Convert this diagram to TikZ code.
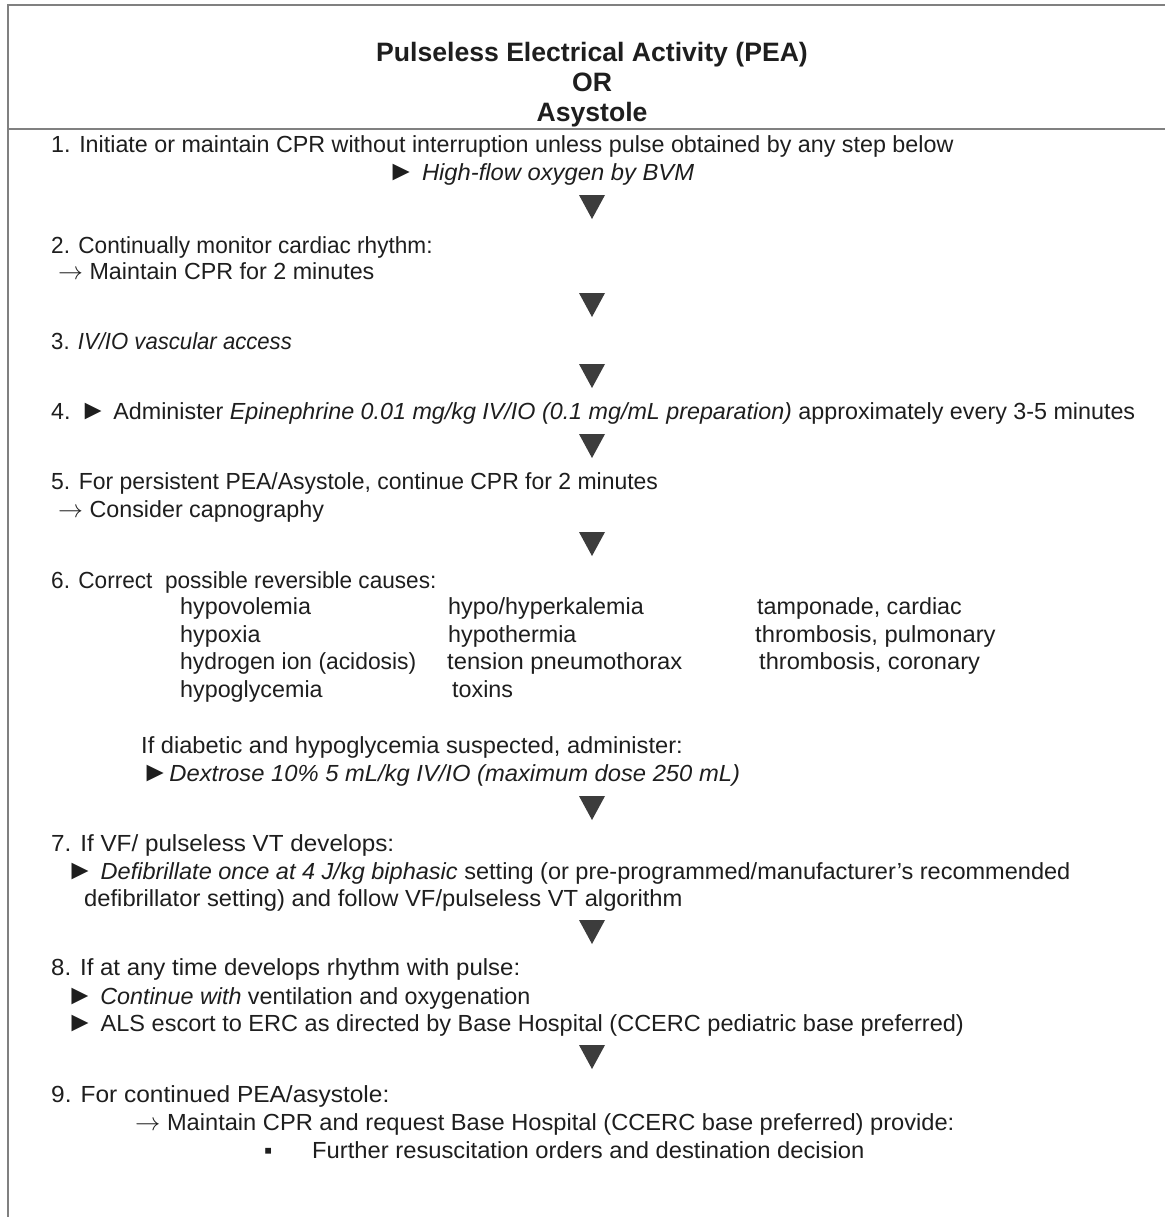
\documentclass[tikz,border=0pt]{standalone}
\usepackage{graphicx}
\usepackage{fontspec}
\setmainfont{Liberation Sans}
\definecolor{ink}{HTML}{1E1E1E}
\definecolor{trigray}{HTML}{3C3C3C}
\definecolor{rulegray}{HTML}{808080}
\newcommand\bodysize{\fontsize{23.3}{28}\selectfont}
\newcommand\hs[2]{\scalebox{#1}[1]{#2}}
\newcommand\ptr{\scalebox{1.2}{►}}
\newcommand\rarr{\smash{$\rightarrow$}}
\newcommand\downtri[2]{\fill[trigray] (#1,#2) ++(-13,-12) -- ++(26,0) -- ++(-13,24) -- cycle;}
\begin{document}
\begin{tikzpicture}[x=1pt,y=-1pt,
  txt/.style={anchor=base west, inner sep=0pt, font=\bodysize, text=ink},
  ttl/.style={anchor=base, inner sep=0pt, font=\bfseries\fontsize{26.6}{32}\selectfont, text=ink},
  frame/.style={draw=rulegray, line width=1.6pt}]
\useasboundingbox (0,0) rectangle (1165,1217);
\fill[white] (0,0) rectangle (1165,1217);
% frame
\coordinate (tl) at (8,5);
\coordinate (tr) at (1165,5);
\coordinate (bl) at (8,1217);
\coordinate (sl) at (8,129);
\coordinate (sr) at (1165,129);
\draw[frame] (bl) -- (tl) -- (tr);
\draw[frame] (sl) -- (sr);
% title
\node[ttl] (t1) at (592,62) {Pulseless Electrical Activity (PEA)};
\node[ttl] (t2) at (592,92) {OR};
\node[ttl] (t3) at (592,122) {Asystole};
% step 1
\node[txt] (s1) at (51,153) {1. Initiate or maintain CPR without interruption unless pulse obtained by any step below};
\node[txt] (s1b) at (387,181) {\hs{1.02}{\ptr\ \textit{High-flow oxygen by BVM}}};
\downtri{592}{207}
% step 2
\node[txt] (s2) at (51,253) {\hs{0.97}{2. Continually monitor cardiac rhythm:}};
\node[txt] (s2b) at (58,279) {\rarr\ Maintain CPR for 2 minutes};
\downtri{592}{305}
% step 3
\node[txt] (s3) at (51,349) {\hs{0.95}{3. \textit{IV/IO vascular access}}};
\downtri{592}{376}
% step 4
\node[txt] (s4) at (51,419) {4. \ptr\ Administer \textit{Epinephrine 0.01 mg/kg IV/IO (0.1 mg/mL preparation)} approximately every 3-5 minutes};
\downtri{592}{446}
% step 5
\node[txt] (s5) at (51,489) {\hs{0.985}{5. For persistent PEA/Asystole, continue CPR for 2 minutes}};
\node[txt] (s5b) at (58,517) {\rarr\ Consider capnography};
\downtri{592}{544}
% step 6
\node[txt] (s6) at (51,588) {\hs{0.97}{6. Correct\ \ possible reversible causes:}};
\node[txt] (c11) at (180,614) {hypovolemia};
\node[txt] (c12) at (180,642) {hypoxia};
\node[txt] (c13) at (180,669) {\hs{0.98}{hydrogen ion (acidosis)}};
\node[txt] (c14) at (180,697) {hypoglycemia};
\node[txt] (c21) at (448,614) {hypo/hyperkalemia};
\node[txt] (c22) at (448,642) {hypothermia};
\node[txt] (c23) at (447,669) {\hs{1.02}{tension pneumothorax}};
\node[txt] (c24) at (452,697) {toxins};
\node[txt] (c31) at (757,614) {tamponade, cardiac};
\node[txt] (c32) at (755,642) {\hs{1.02}{thrombosis, pulmonary}};
\node[txt] (c33) at (759,669) {\hs{1.015}{thrombosis, coronary}};
\node[txt] (d1) at (141,753) {\hs{1.015}{If diabetic and hypoglycemia suspected, administer:}};
\node[txt] (d2) at (141,781) {\hs{1.02}{\ptr\textit{Dextrose 10\% 5 mL/kg IV/IO (maximum dose 250 mL)}}};
\downtri{592}{808}
% step 7
\node[txt] (s7) at (51,851) {\hs{1.04}{7. If VF/ pulseless VT develops:}};
\node[txt] (s7b) at (66,879) {\hs{1.01}{\ptr\ \textit{Defibrillate once at 4 J/kg biphasic} setting (or pre-programmed/manufacturer’s recommended}};
\node[txt] (s7c) at (84,906) {\hs{1.02}{defibrillator setting) and follow VF/pulseless VT algorithm}};
\downtri{592}{932}
% step 8
\node[txt] (s8) at (51,975) {\hs{1.03}{8. If at any time develops rhythm with pulse:}};
\node[txt] (s8b) at (66,1004) {\ptr\ \textit{Continue with} ventilation and oxygenation};
\node[txt] (s8c) at (66,1031) {\hs{1.01}{\ptr\ ALS escort to ERC as directed by Base Hospital (CCERC pediatric base preferred)}};
\downtri{592}{1057}
% step 9
\node[txt] (s9) at (51,1102) {\hs{1.05}{9. For continued PEA/asystole:}};
\node[txt] (s9b) at (135,1130) {\hs{1.015}{\rarr\ Maintain CPR and request Base Hospital (CCERC base preferred) provide:}};
\node[txt] (s9c) at (264,1158) {▪};
\node[txt] (s9d) at (312,1158) {\hs{1.02}{Further resuscitation orders and destination decision}};
\end{tikzpicture}
\end{document}
